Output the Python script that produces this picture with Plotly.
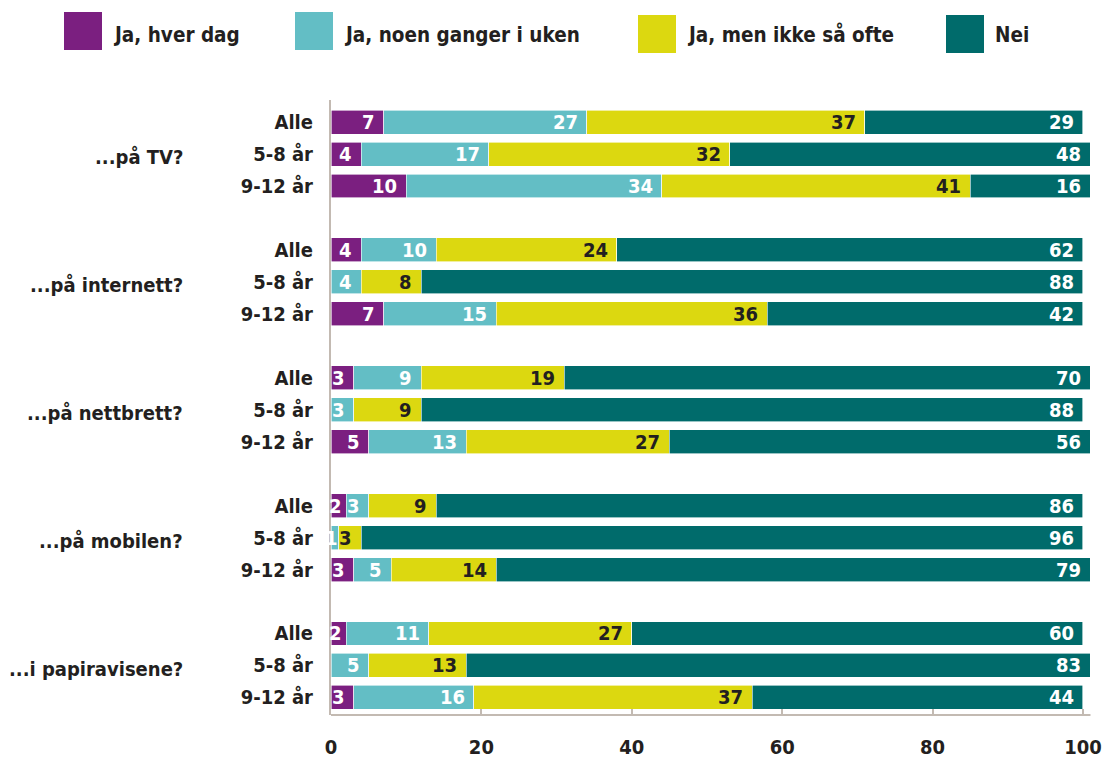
import plotly.graph_objects as go

groups = ["...på TV?", "...på internett?", "...på nettbrett?", "...på mobilen?", "...i papiravisene?"]
subgroups = ["Alle", "5-8 år", "9-12 år"]
series_names = ["Ja, hver dag", "Ja, noen ganger i uken", "Ja, men ikke så ofte", "Nei"]
colors = ["#7b1f80", "#63bec5", "#dcd810", "#006b6b"]
text_colors = ["white", "white", "#231f20", "white"]

hver_dag = [7, 4, 10, 4, 0, 7, 3, 0, 5, 2, 0, 3, 2, 0, 3]
noen_ganger = [27, 17, 34, 10, 4, 15, 9, 3, 13, 3, 1, 5, 11, 5, 16]
ikke_ofte = [37, 32, 41, 24, 8, 36, 19, 9, 27, 9, 3, 14, 27, 13, 37]
nei = [29, 48, 16, 62, 88, 42, 70, 88, 56, 86, 96, 79, 60, 83, 44]
values = [hver_dag, noen_ganger, ikke_ofte, nei]

x_ticks = [0, 20, 40, 60, 80, 100]

FONT = "DejaVu Sans Condensed, DejaVu Sans"
DARK = "#231f20"
AXIS = "#c3bab2"
FS = 20

# positions: each group has 3 rows plus one empty gap row
pos = [g * 4 + s for g in range(len(groups)) for s in range(len(subgroups))]
sub_labels = [subgroups[s] for g in range(len(groups)) for s in range(len(subgroups))]

fig = go.Figure()
cum = [0] * len(pos)
for name, vals, col, tcol in zip(series_names, values, colors, text_colors):
    fig.add_trace(go.Bar(
        y=pos, x=vals, orientation="h", name=name,
        marker=dict(color=col, line=dict(width=0.6, color="white")),
        width=0.75, showlegend=False, hoverinfo="x+name",
    ))
    for i, v in enumerate(vals):
        cum[i] += v
        if v <= 0:
            continue
        shift = -7 if v >= 3 else (-2 if v == 2 else 1)
        fig.add_annotation(x=cum[i], y=pos[i], xref="x", yref="y", text=str(v),
                           showarrow=False, xanchor="right", yanchor="middle",
                           xshift=shift, yshift=0,
                           font=dict(family=FONT, size=FS, color=tcol, weight="bold"))

W, H = 1104, 760
ml, mr, mt, mb = 331, 6, 100, 45
pw = W - ml - mr
ph = H - mt - mb

def px_x(px):
    return (px - ml) / pw

def px_y(py):
    return 1 - (py - mt) / ph

# custom legend (large squares)
leg_x = [64, 295, 638, 946]
leg_y = [12, 12, 15, 15]
for name, col, lx, ly in zip(series_names, colors, leg_x, leg_y):
    fig.add_shape(type="rect", xref="paper", yref="paper",
                  x0=px_x(lx), x1=px_x(lx + 38), y0=px_y(ly + 38), y1=px_y(ly),
                  fillcolor=col, line=dict(width=0))
    fig.add_annotation(xref="paper", yref="paper", x=px_x(lx + 47), y=px_y(35),
                       text=name, showarrow=False, xanchor="left", yanchor="middle",
                       font=dict(family=FONT, size=20.5, color=DARK, weight="bold"))

# group labels
for g, gname in enumerate(groups):
    fig.add_annotation(xref="paper", yref="y", x=px_x(185), y=g * 4 + 1.1,
                       text=gname, showarrow=False, xanchor="right", yanchor="middle",
                       font=dict(family=FONT, size=FS, color=DARK, weight="bold"))

# bottom axis line
fig.add_shape(type="line", xref="x", yref="paper", x0=0, x1=101, y0=0, y1=0,
              line=dict(color=AXIS, width=2))

fig.update_layout(
    width=W, height=H, barmode="stack",
    margin=dict(l=ml, r=mr, t=mt, b=mb),
    plot_bgcolor="white", paper_bgcolor="white",
    xaxis=dict(range=[0, 102], tickvals=x_ticks, ticks="inside", ticklen=6,
               tickcolor=AXIS, tickwidth=2, showgrid=False, zeroline=False,
               showline=False, ticklabelstandoff=18, automargin=False,
               tickfont=dict(family=FONT, size=FS, color=DARK, weight="bold")),
    yaxis=dict(range=[18.55, -0.69], tickvals=pos, ticktext=sub_labels,
               showgrid=False, zeroline=False, showline=True, linecolor=AXIS,
               linewidth=2, ticks="", ticklabelstandoff=12, automargin=False,
               tickfont=dict(family=FONT, size=FS, color=DARK, weight="bold")),
)

fig.write_html("out.html", post_script="document.body.style.margin='0';",
               config={"displayModeBar": False})
